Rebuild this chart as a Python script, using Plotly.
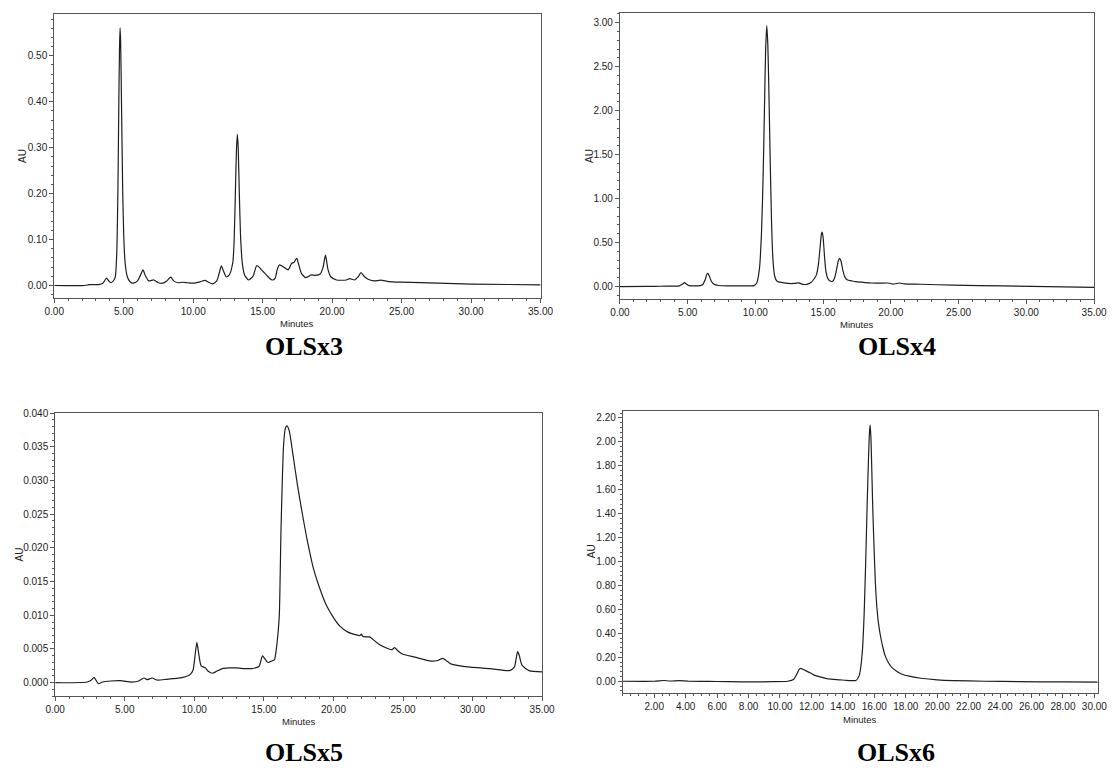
import plotly.graph_objects as go

# ---------------- data ----------------
ols3_t = [0, 2.2, 2.5, 3.2, 3.5, 3.76, 3.95, 4.1, 4.3, 4.40, 4.50, 4.58, 4.65, 4.70, 4.74, 4.78, 4.84, 4.92,
          5.00, 5.10, 5.25, 5.45, 5.7, 6.0, 6.2, 6.39, 6.55, 6.8, 7.17, 7.5, 7.8, 8.1, 8.39, 8.6, 8.9, 9.2,
          9.6, 10.0, 10.5, 10.85, 11.1, 11.39, 11.7, 11.9, 12.03, 12.2, 12.38, 12.6, 12.85, 12.95, 13.05,
          13.12, 13.18, 13.24, 13.32, 13.42, 13.55, 13.7, 13.98, 14.3, 14.57, 14.75, 14.92, 15.27, 15.6,
          15.74, 15.9, 16.05, 16.21, 16.56, 16.84, 17.08, 17.25, 17.45, 17.6, 17.78, 18.09, 18.49, 18.79,
          19.14, 19.35, 19.52, 19.7, 19.9, 20.32, 21.02, 21.26, 21.61, 21.85, 22.08, 22.3, 22.55, 23.02,
          23.49, 24.08, 25.02, 27.6, 30.0, 35.0]
ols3_au = [0, 0.0, 0.002, 0.002, 0.005, 0.016, 0.009, 0.006, 0.012, 0.02, 0.07, 0.20, 0.40, 0.52, 0.561, 0.53,
           0.40, 0.22, 0.11, 0.05, 0.02, 0.008, 0.005, 0.01, 0.022, 0.034, 0.022, 0.01, 0.012, 0.006, 0.005,
           0.01, 0.018, 0.01, 0.006, 0.007, 0.006, 0.005, 0.008, 0.011, 0.007, 0.0036, 0.01, 0.03, 0.043,
           0.03, 0.019, 0.023, 0.05, 0.10, 0.22, 0.30, 0.329, 0.30, 0.20, 0.10, 0.045, 0.023, 0.012, 0.02,
           0.043, 0.04, 0.034, 0.023, 0.013, 0.012, 0.016, 0.035, 0.045, 0.039, 0.034, 0.048, 0.05, 0.059,
           0.045, 0.027, 0.017, 0.023, 0.022, 0.025, 0.04, 0.066, 0.035, 0.019, 0.012, 0.012, 0.015, 0.012,
           0.018, 0.028, 0.02, 0.014, 0.010, 0.0115, 0.0086, 0.0072, 0.005, 0.003, 0.0014]

ols4_t = [0, 2.0, 3.0, 4.0, 4.4, 4.6, 4.77, 4.9, 5.1, 5.8, 6.1, 6.3, 6.42, 6.5, 6.6, 6.75, 6.95, 7.3, 8.0, 9.5,
          9.9, 10.1, 10.3, 10.45, 10.58, 10.68, 10.76, 10.84, 10.92, 11.0, 11.1, 11.2, 11.3, 11.42, 11.6,
          12.0, 12.4, 12.9, 13.2, 13.5, 13.8, 14.1, 14.3, 14.5, 14.65, 14.78, 14.88, 14.93, 15.0, 15.1,
          15.2, 15.35, 15.55, 15.7, 15.85, 16.0, 16.12, 16.22, 16.32, 16.45, 16.6, 16.8, 17.1, 17.4, 18.1,
          18.6, 19.2, 19.8, 20.16, 20.64, 21.0, 22.2, 24.6, 28.2, 35.0]
ols4_au = [0, 0.001, 0.003, 0.005, 0.008, 0.025, 0.045, 0.03, 0.01, 0.008, 0.02, 0.08, 0.14, 0.15, 0.12, 0.06,
           0.025, 0.012, 0.008, 0.008, 0.01, 0.04, 0.2, 0.6, 1.3, 2.1, 2.7, 2.968, 2.75, 2.2, 1.4, 0.7, 0.3,
           0.12, 0.06, 0.045, 0.035, 0.035, 0.042, 0.025, 0.025, 0.045, 0.08, 0.13, 0.25, 0.45, 0.6, 0.618,
           0.56, 0.35, 0.18, 0.09, 0.06, 0.06, 0.1, 0.2, 0.29, 0.32, 0.29, 0.19, 0.11, 0.075, 0.065, 0.055,
           0.045, 0.04, 0.038, 0.04, 0.028, 0.04, 0.03, 0.026, 0.015, 0.008, -0.01]

ols5_t = [0, 2.3, 2.6, 2.79, 2.95, 3.1, 3.4, 4.0, 4.7, 5.5, 6.0, 6.38, 6.6, 6.97, 7.3, 8.0, 8.5, 9.2, 9.5,
          9.69, 9.9, 10.05, 10.18, 10.3, 10.49, 10.79, 11.0, 11.31, 11.6, 12.01, 12.5, 12.95, 13.5, 14.12,
          14.64, 14.9, 15.05, 15.29, 15.64, 15.76, 15.88, 16.0, 16.11, 16.23, 16.42, 16.55, 16.65, 16.82,
          17.05, 17.4, 17.76, 18.11, 18.58, 19.05, 19.51, 19.99, 20.46, 21.04, 21.63, 21.9, 22.0, 22.1,
          22.33, 22.6, 22.68, 23.27, 23.98, 24.2, 24.4, 24.6, 24.91, 25.85, 27.02, 27.5, 27.85, 28.1, 28.43,
          29.84, 31.25, 32.65, 33.0, 33.15, 33.24, 33.35, 33.55, 34.06, 35.0]
ols5_au = [0, 0.0001, 0.0004, 0.0008, 0.0003, -0.00015, 0.0001, 0.00025, 0.0003, 0.0001, 0.00025, 0.0007,
           0.00045, 0.0007, 0.0004, 0.0005, 0.0006, 0.0008, 0.001, 0.0012, 0.0018, 0.004, 0.006, 0.0045,
           0.0025, 0.0022, 0.0017, 0.0014, 0.0017, 0.0021, 0.0022, 0.0022, 0.0021, 0.0021, 0.0024, 0.004,
           0.0036, 0.003, 0.0033, 0.0034, 0.0048, 0.007, 0.0101, 0.0227, 0.0354, 0.0378, 0.0381, 0.0374,
           0.0344, 0.0295, 0.0251, 0.0212, 0.0168, 0.0138, 0.0114, 0.0097, 0.0084, 0.0075, 0.0071, 0.0070,
           0.0072, 0.0069, 0.0068, 0.0068, 0.0067, 0.0057, 0.005, 0.0049, 0.0052, 0.0048, 0.0043, 0.0038,
           0.0032, 0.0033, 0.0036, 0.0033, 0.0028, 0.0023, 0.0021, 0.0018, 0.0023, 0.0038, 0.0046, 0.0041,
           0.0026, 0.0018, 0.0016]

ols6_t = [0, 2.0, 2.6, 3.0, 3.6, 4.2, 6.0, 7.5, 9.5, 10.49, 10.86, 11.07, 11.2, 11.32, 11.45, 11.63, 11.94,
          12.14, 12.5, 12.97, 13.38, 13.8, 14.2, 14.6, 14.83, 15.04, 15.15, 15.25, 15.35, 15.45, 15.55, 15.62,
          15.68, 15.73, 15.78, 15.83, 15.9, 15.98, 16.06, 16.14, 16.25, 16.39, 16.55, 16.7, 16.9, 17.11,
          17.4, 17.73, 18.3, 18.97, 20.0, 21.04, 23.0, 25.19, 28.0, 30.6]
ols6_au = [0, 0.0, 0.006, 0.002, 0.005, 0.0, -0.002, -0.005, -0.004, 0.0, 0.014, 0.06, 0.095, 0.108, 0.1,
           0.089, 0.069, 0.053, 0.038, 0.022, 0.016, 0.012, 0.007, 0.005, 0.006, 0.047, 0.13, 0.27, 0.55,
           0.99, 1.5, 1.82, 2.05, 2.142, 2.05, 1.82, 1.45, 1.13, 0.85, 0.66, 0.5, 0.38, 0.28, 0.21, 0.155,
           0.116, 0.085, 0.061, 0.04, 0.025, 0.012, 0.0055, 0.0, -0.003, -0.006, -0.008]

captions = ["OLSx3", "OLSx4", "OLSx5", "OLSx6"]

# ---------------- layout helpers ----------------
OFF = 8                      # default page margin of the html body (both sides)
W, H = 1119 - 2 * OFF, 778 - 2 * OFF


def clamp(v):
    return min(1.0, max(0.0, v))


def dx(a, b):
    return [clamp((a - OFF) / W), clamp((b - OFF) / W)]


def dy(top, bottom):
    return [clamp(1 - (bottom - OFF) / H), clamp(1 - (top - OFF) / H)]


def px(xp, yp):
    return (xp - OFF) / W, 1 - (yp - OFF) / H


panels = [
    dict(t=ols3_t, y=ols3_au, xd=dx(45, 541.7), yd=dy(9, 295), xr=[0, 35], yr=[-0.0275, 0.591],
         ydt=0.1, ymin=0.02, yfmt=".2f", xticks=[0, 5, 10, 15, 20, 25, 30, 35], xmin=1),
    dict(t=ols4_t, y=ols4_au, xd=dx(622.7, 1107), yd=dy(8, 296), xr=[0, 35], yr=[-0.143, 3.11],
         ydt=0.5, ymin=0.1, yfmt=".2f", xticks=[0, 5, 10, 15, 20, 25, 30, 35], xmin=1),
    dict(t=ols5_t, y=ols5_au, xd=dx(46, 543.3), yd=dy(410.7, 695.7), xr=[0, 35], yr=[-0.002, 0.040],
         ydt=0.005, ymin=0.001, yfmt=".3f", xticks=[0, 5, 10, 15, 20, 25, 30, 35], xmin=1),
    dict(t=ols6_t, y=ols6_au, xd=dx(625.7, 1110.5), yd=dy(408.3, 692.7), xr=[0, 30.2], yr=[-0.1, 2.261],
         ydt=0.2, ymin=0.04, yfmt=".2f", xticks=list(range(2, 31, 2)), xmin=0.5),
]

fig = go.Figure()
axcol = "#555555"
tickfont = dict(family="Liberation Sans, Arial, sans-serif", size=10, color="#222222")

for i, p in enumerate(panels):
    n = "" if i == 0 else str(i + 1)
    fig.add_trace(go.Scatter(x=p["t"], y=p["y"], mode="lines",
                             line=dict(color="#1e1e1e", width=1.2, shape="spline", smoothing=0.6),
                             xaxis="x" + n, yaxis="y" + n, showlegend=False, hoverinfo="skip",
                             cliponaxis=True))
    fig.layout["xaxis" + n] = dict(
        domain=p["xd"], range=p["xr"], anchor="y" + n, showgrid=False, zeroline=False,
        showline=True, mirror=True, linecolor=axcol, linewidth=1,
        ticks="outside", ticklen=4, tickwidth=1, tickcolor=axcol,
        tickvals=p["xticks"], ticktext=["%.2f" % v for v in p["xticks"]],
        tickfont=tickfont,
        minor=dict(ticks="outside", ticklen=2, tickcolor=axcol, dtick=p["xmin"], tick0=0, showgrid=False),
    )
    fig.layout["yaxis" + n] = dict(
        domain=p["yd"], range=p["yr"], anchor="x" + n, showgrid=False, zeroline=False,
        showline=True, mirror=True, linecolor=axcol, linewidth=1,
        ticks="outside", ticklen=4, tickwidth=1, tickcolor=axcol,
        dtick=p["ydt"], tick0=0, tickformat=p["yfmt"], tickfont=tickfont,
        minor=dict(ticks="outside", ticklen=2, tickcolor=axcol, dtick=p["ymin"], tick0=0, showgrid=False),
    )

annots = []
lab_font = dict(family="Liberation Sans, Arial, sans-serif", size=10, color="#222222")
# "AU" axis labels (target pixel positions)
for (xp, yp) in [(12, 152), (591, 152), (9, 553), (594, 550)]:
    ax_, ay_ = px(xp, yp)
    annots.append(dict(x=ax_, y=ay_, xref="paper", yref="paper", text="AU", textangle=-90,
                       showarrow=False, font=lab_font, xanchor="center", yanchor="middle"))
# "Minutes" axis labels
for (xp, yp) in [(293, 321), (865, 322), (295, 721), (868, 719)]:
    ax_, ay_ = px(xp, yp)
    annots.append(dict(x=ax_, y=ay_, xref="paper", yref="paper", text="Minutes",
                       showarrow=False, font=dict(family="Liberation Sans, Arial, sans-serif", size=9.5,
                                                  color="#222222"),
                       xanchor="center", yanchor="middle"))
# captions
for txt, (xp, yp) in zip(captions, [(300, 344), (906, 344), (300, 752), (905, 752)]):
    ax_, ay_ = px(xp, yp)
    annots.append(dict(x=ax_, y=ay_, xref="paper", yref="paper", text="<b>%s</b>" % txt,
                       showarrow=False,
                       font=dict(family="Liberation Serif, Times New Roman, serif", size=26, color="#000000"),
                       xanchor="center", yanchor="middle"))

fig.update_layout(width=W, height=H, margin=dict(l=0, r=0, t=0, b=0), paper_bgcolor="white",
                  plot_bgcolor="white", annotations=annots, showlegend=False)

fig.write_html("out.html", config={"displayModeBar": False})
